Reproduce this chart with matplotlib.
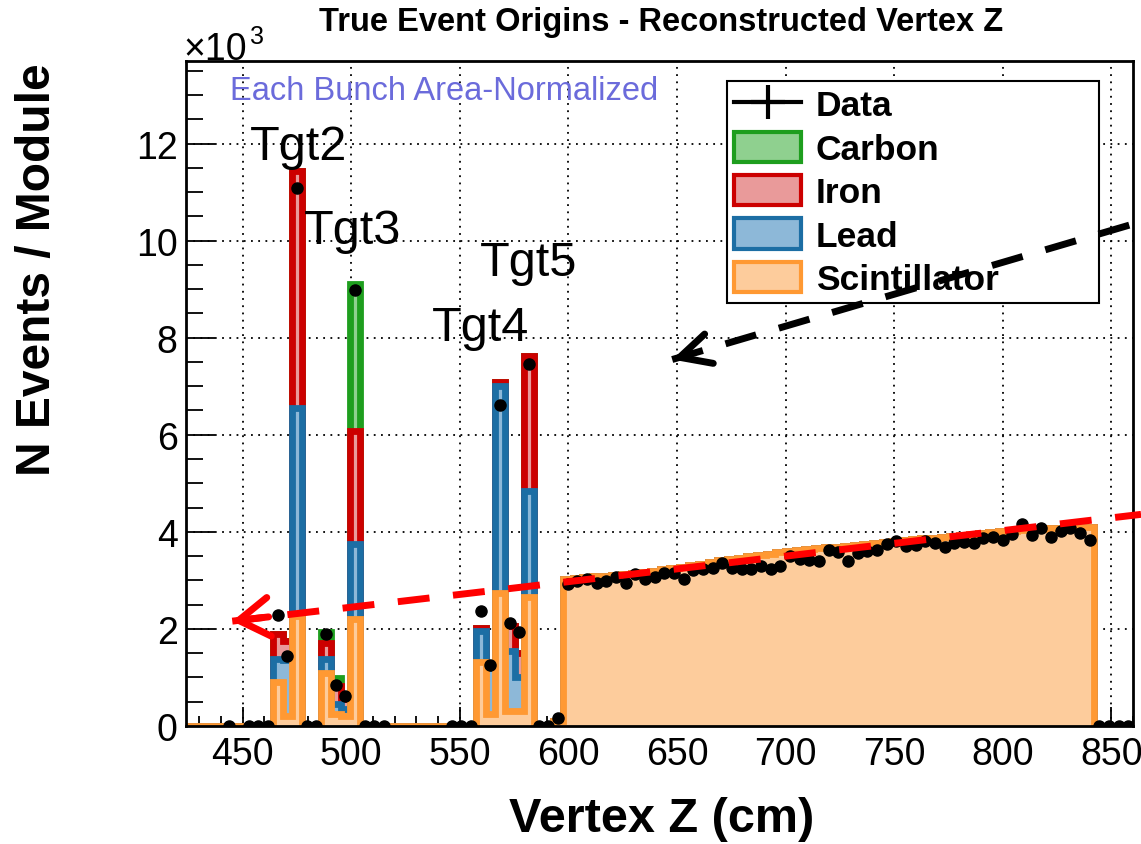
import matplotlib.pyplot as plt
import numpy as np
from matplotlib.lines import Line2D
from matplotlib.patches import Patch

plt.rcParams['font.family'] = ['Liberation Sans', 'DejaVu Sans']

# one bin per module (~4.45 cm)
z_first_edge = 423.9
module_width = 4.45
n_bins = 98

# MC stack in the nuclear-target bins, x10^3 events per component
target_bins = [9, 10, 11, 14, 15, 16, 17, 30, 31, 32, 33, 34, 35, 38]
scint_target = [0.90, 0.20, 2.26, 1.10, 0.25, 0.20, 2.20, 1.31, 0.25, 2.75, 0.30, 0.30, 2.65, 0.10]
lead_target = [0.48, 1.15, 4.30, 0.28, 0.20, 0.15, 1.54, 0.64, 0.95, 4.25, 1.25, 0.70, 2.20, 0.00]
iron_target = [0.51, 0.40, 4.87, 0.34, 0.37, 0.20, 2.33, 0.06, 0.02, 0.08, 0.50, 0.50, 2.78, 0.00]
carbon_target = [0.00, 0.00, 0.00, 0.21, 0.16, 0.10, 3.03, 0.00, 0.00, 0.00, 0.00, 0.00, 0.00, 0.00]

# tracker region, scintillator only (bins 39..93)
scint_tracker = [3.02, 3.05, 3.06, 3.08, 3.10, 3.12, 3.13, 3.16, 3.18, 3.20,
                 3.23, 3.25, 3.28, 3.31, 3.34, 3.38, 3.41, 3.44, 3.47, 3.50,
                 3.52, 3.55, 3.58, 3.60, 3.62, 3.64, 3.66, 3.68, 3.69, 3.71,
                 3.73, 3.75, 3.77, 3.79, 3.81, 3.83, 3.85, 3.87, 3.88, 3.90,
                 3.92, 3.94, 3.95, 3.97, 3.99, 4.01, 4.02, 4.04, 4.05, 4.06,
                 4.07, 4.08, 4.08, 4.09, 4.09]

# data, bins 4..38 (None = no point drawn)
data_target = [0, None, 0, 0, 0, 2.28, 1.44, 11.09, 0, 0,
               1.89, 0.84, 0.61, 8.98, 0, 0, 0, None, None, None,
               None, None, None, 0, 0, 0, 2.37, 1.25, 6.62, 2.13,
               1.94, 7.45, 0, 0, 0.16]
# data, bins 39..97
data_tracker = [2.92, 2.98, 3.02, 2.94, 2.99, 3.06, 2.94, 3.13, 3.02, 3.06,
                3.16, 3.15, 3.02, 3.22, 3.23, 3.26, 3.35, 3.26, 3.23, 3.23,
                3.30, 3.24, 3.29, 3.50, 3.44, 3.42, 3.40, 3.62, 3.59, 3.39,
                3.57, 3.61, 3.62, 3.74, 3.81, 3.71, 3.73, 3.81, 3.78, 3.69,
                3.77, 3.79, 3.78, 3.88, 3.90, 3.83, 3.95, 4.16, 3.93, 4.07,
                3.90, 4.01, 4.07, 3.97, 3.83, 0, 0, 0, 0]

target_labels = ["Tgt2", "Tgt3", "Tgt4", "Tgt5"]
target_label_pos = [(453.5, 11.68), (478.3, 9.95), (537.1, 7.96), (559.3, 9.30)]

edges = z_first_edge + module_width * np.arange(n_bins + 1)
centers = 0.5 * (edges[:-1] + edges[1:])

scint = np.zeros(n_bins)
lead = np.zeros(n_bins)
iron = np.zeros(n_bins)
carbon = np.zeros(n_bins)
scint[target_bins] = scint_target
lead[target_bins] = lead_target
iron[target_bins] = iron_target
carbon[target_bins] = carbon_target
scint[39:39 + len(scint_tracker)] = scint_tracker

data = np.array([None] * 4 + data_target + data_tracker, dtype=float)

fig = plt.figure(figsize=(11.41, 8.45), dpi=100)
ax = fig.add_axes([186 / 1141, 1 - 727 / 845, (1133 - 186) / 1141, (727 - 62) / 845])

# stack drawn from the top sum down, ROOT style
layers = [
    ("Carbon", scint + lead + iron + carbon, "#1e9e1e", "#8fd08f"),
    ("Iron", scint + lead + iron, "#cc0000", "#e99a9a"),
    ("Lead", scint + lead, "#1c6ea4", "#8db8d8"),
    ("Scintillator", scint, "#ff9933", "#fdcc9c"),
]
z = 1
for name, vals, edge_c, fill_c in layers:
    ax.stairs(vals, edges, fill=True, color=fill_c, lw=0, zorder=z)
    ax.stairs(vals, edges, baseline=0, color=edge_c, lw=4.9, zorder=z + 0.5)
    z += 1

ax.plot(centers, data, "o", color="black", ms=8, zorder=10)

ax.set_xlim(edges[0], edges[-1])
ax.set_ylim(0, 13.7)
ax.set_xticks(np.arange(450, 851, 50))
ax.set_xticks(np.arange(430, 861, 10), minor=True)
ax.set_yticks(np.arange(0, 13, 2))
ax.set_yticks(np.arange(0, 13.7, 0.5), minor=True)

for xv in np.arange(450, 851, 50):
    ax.axvline(xv, color="black", ls=(0, (1, 3)), lw=1.3, zorder=0.5)
for yv in np.arange(2, 13, 2):
    ax.axhline(yv, color="black", ls=(0, (1, 3)), lw=1.3, zorder=0.5)

ax.tick_params(axis="both", which="both", direction="in", labelsize=27, width=1.3)
ax.tick_params(axis="x", which="major", length=14, pad=7)
ax.tick_params(axis="x", which="minor", length=7)
ax.tick_params(axis="y", which="major", length=21, pad=6)
ax.tick_params(axis="y", which="minor", length=12)
for s in ax.spines.values():
    s.set_linewidth(2)
    s.set_zorder(20)

fig.text(661 / 1141, 1 - 22 / 845, "True Event Origins - Reconstructed Vertex Z",
         ha="center", va="center", fontsize=23.5, weight="bold")
fig.text(38 / 1141, 1 - 63 / 845, "N Events / Module", rotation=90,
         ha="center", va="top", fontsize=34.5, weight="bold")
fig.text(662 / 1141, 1 - 820 / 845, "Vertex Z (cm)", ha="center", va="center",
         fontsize=35, weight="bold")
fig.text(183 / 1141, 1 - 60 / 845, "×10", ha="left", va="baseline", fontsize=27)
fig.text(250 / 1141, 1 - 44 / 845, "3", ha="left", va="baseline", fontsize=18)
fig.text(230 / 1141, 1 - 100 / 845, "Each Bunch Area-Normalized", ha="left",
         va="baseline", fontsize=23.5, color="#6b6bdb")

for lab, (tx, ty) in zip(target_labels, target_label_pos):
    ax.text(tx, ty, lab, fontsize=35, ha="left", va="baseline", zorder=12)

handles = [Line2D([], [], color="black", lw=3, marker="+", ms=24, mew=3)]
for name, vals, edge_c, fill_c in layers:
    handles.append(Patch(facecolor=fill_c, edgecolor=edge_c, lw=3, joinstyle="round"))
labels = ["Data", "Carbon", "Iron", "Lead", "Scintillator"]
leg_x0, leg_x1 = 727 / 1141, 1099 / 1141
leg_y0, leg_y1 = 1 - 299 / 845, 1 - 82 / 845
leg = ax.legend(handles, labels, loc="upper left", mode="expand",
                bbox_to_anchor=(leg_x0, leg_y0, leg_x1 - leg_x0, leg_y1 - leg_y0),
                bbox_transform=fig.transFigure,
                prop=dict(size=25.5, weight="bold"), frameon=True, fancybox=False,
                edgecolor="black", framealpha=1, handlelength=1.9, handleheight=0.93,
                handletextpad=0.4, labelspacing=0.26, borderpad=0.2, borderaxespad=0)
leg.get_frame().set_linewidth(1.5)
leg.set_zorder(15)

# hand-drawn style arrows, on top of everything (legend included)
for tip, end, col, hw in [((445.2, 2.16), (863.7, 4.36), "red", 1.4),
                          ((647.8, 7.55), (863.7, 10.39), "black", 1.1)]:
    ax.plot([tip[0], end[0]], [tip[1], end[1]], color=col, lw=5,
            ls=(0, (4.6, 3.4)), solid_capstyle="butt", clip_on=False, zorder=30)
    back = (tip[0] + 0.04 * (end[0] - tip[0]), tip[1] + 0.04 * (end[1] - tip[1]))
    ax.annotate("", xy=tip, xytext=back,
                arrowprops=dict(arrowstyle=f"->,head_length=2.2,head_width={hw}",
                                color=col, lw=5, shrinkA=0, shrinkB=0),
                zorder=30)

fig.savefig("out.png", dpi=100)
